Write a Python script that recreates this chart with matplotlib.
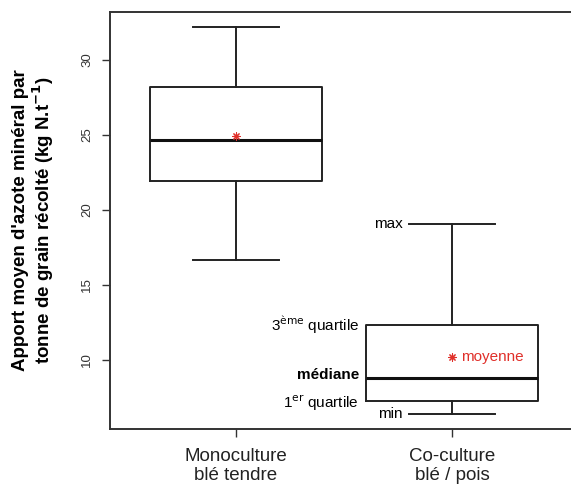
import matplotlib.pyplot as plt

plt.rcParams['font.family'] = ['Liberation Sans', 'DejaVu Sans']

# ------------------ Données ------------------
groupes = ["Monoculture\nblé tendre", "Co-culture\nblé / pois"]
minimum = [16.67, 6.38]
q1 = [21.93, 7.24]
mediane = [24.67, 8.82]
q3 = [28.2, 12.33]
maximum = [32.2, 19.07]
moyenne = [24.93, 10.18]

positions = [1, 2]
stats = []
for i in range(len(groupes)):
    stats.append(dict(whislo=minimum[i], q1=q1[i], med=mediane[i],
                      q3=q3[i], whishi=maximum[i], fliers=[]))

# ------------------ Figure ------------------
fig = plt.figure(figsize=(5.71, 4.91), dpi=100)
# l'axe déborde à droite (figure rognée comme l'original)
ax = fig.add_axes([110 / 571, 1 - 429 / 491, 510 / 571, 417 / 491])

ax.bxp(stats, positions=positions, widths=0.8, capwidths=0.4,
       showfliers=False, patch_artist=False,
       boxprops=dict(color="#222222", linewidth=1.4),
       whiskerprops=dict(color="#222222", linewidth=1.4, linestyle="-"),
       capprops=dict(color="#222222", linewidth=1.4),
       medianprops=dict(color="#111111", linewidth=2.2))

ax.scatter(positions, moyenne, marker=(8, 2, 0), s=28, color="#e0302a",
           linewidths=0.8, zorder=5)

ax.set_xlim(1 - 126 / 216, 2 + 168 / 216)
ax.set_ylim(5.4, 33.2)
ax.set_yticks([10, 15, 20, 25, 30])
ax.set_yticklabels(["10", "15", "20", "25", "30"], rotation=90, va="center",
                   fontsize=9.5, color="#333333")
ax.set_xticks(positions)
ax.set_xticklabels(groupes, fontsize=13.5, linespacing=1.1, color="#222222")
ax.tick_params(axis="y", length=6, width=1, pad=6, color="#333333")
ax.tick_params(axis="x", length=6, width=1, pad=8, color="#333333")
for s in ax.spines.values():
    s.set_linewidth(1.4)
    s.set_color("#333333")
ax.spines["right"].set_visible(False)

ax.set_ylabel("Apport moyen d'azote minéral par\ntonne de grain récolté (kg N.t$^{\\mathbf{-1}}$)",
              fontsize=13.5, fontweight="bold", linespacing=1.05)
ax.yaxis.set_label_coords(-0.106, 0.5)

# ------------------ Légende explicative (boîte 2) ------------------
x2 = positions[1]
fs = 11
ax.text(x2 - 0.23, maximum[1], "max", ha="right", va="center", fontsize=fs)
ax.text(x2 - 0.43, q3[1], "3$^{\\mathrm{ème}}$ quartile", ha="right", va="center", fontsize=fs)
ax.text(x2 - 0.43, mediane[1] + 0.15, "médiane", ha="right", va="center",
        fontsize=fs, fontweight="bold")
ax.text(x2 - 0.43, q1[1] - 0.1, "1$^{\\mathrm{er}}$ quartile", ha="right", va="center", fontsize=fs)
ax.text(x2 - 0.23, minimum[1], "min", ha="right", va="center", fontsize=fs)
ax.text(x2 + 0.04, moyenne[1], "moyenne", ha="left", va="center", fontsize=fs,
        color="#e0302a")

fig.savefig("out.png", dpi=100)
